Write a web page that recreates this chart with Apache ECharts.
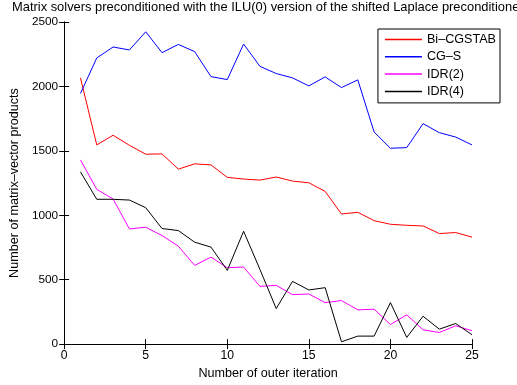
<!DOCTYPE html>
<html>
<head>
<meta charset="utf-8">
<script src="https://cdn.jsdelivr.net/npm/echarts@6/dist/echarts.min.js"></script>
<style>html,body{margin:0;padding:0;background:#fff;}#c{width:517px;height:385px;}</style>
</head>
<body>
<div id="c"></div>
<script>
var iterations = [1,2,3,4,5,6,7,8,9,10,11,12,13,14,15,16,17,18,19,20,21,22,23,24,25];
var bicgstab = [2066,1546,1621,1543,1474,1476,1358,1399,1391,1294,1281,1273,1297,1265,1252,1185,1010,1023,958,930,922,917,858,866,830];
var cgs = [1945,2221,2306,2283,2424,2262,2326,2270,2076,2053,2329,2156,2100,2066,2004,2074,1991,2051,1646,1520,1525,1711,1641,1607,1546];
var idr2 = [1430,1201,1126,894,907,843,760,611,675,593,598,448,456,384,389,322,338,266,271,152,227,111,90,142,104];
var idr4 = [1337,1124,1124,1118,1059,897,881,791,753,572,876,580,276,487,420,438,18,62,62,322,52,216,116,160,73];
var seriesNames = ['Bi\u2013CGSTAB','CG\u2013S','IDR(2)','IDR(4)'];
var seriesColors = ['#ff0000','#0000ff','#ff00ff','#000000'];
var xTicks = [0,5,10,15,20,25];
var yTicks = [0,500,1000,1500,2000,2500];

var FONT = 'Liberation Sans, Arial, Helvetica, sans-serif';
function pairs(v){ return iterations.map(function(x,i){ return [x, v[i]]; }); }
var all = [bicgstab, cgs, idr2, idr4];

var chart = echarts.init(document.getElementById('c'), null, {renderer:'canvas'});
var axisLine = {show:true, lineStyle:{color:'#000', width:1}};
var tick = {show:true, inside:true, length:5, lineStyle:{color:'#000', width:1}};
chart.setOption({
  animation:false,
  backgroundColor:'#fff',
  title:{
    text:'Matrix solvers preconditioned with the ILU(0) version of the shifted Laplace preconditioner',
    left:12, top:1, padding:0,
    textStyle:{fontFamily:FONT, fontSize:12.9, fontWeight:'normal', color:'#000', width:700, overflow:'none'}
  },
  grid:{left:61, right:45, top:22, bottom:39.3, containLabel:false},
  legend:{
    data:seriesNames.map(function(n,i){
      return {name:n, icon:'rect', itemStyle:{color:seriesColors[i], borderWidth:0, opacity:1}};
    }),
    orient:'vertical',
    right:17, top:29,
    padding:[4,4,5,7],
    itemWidth:37, itemHeight:1.5, itemGap:4.3,
    backgroundColor:'#fff',
    borderColor:'#000', borderWidth:1, borderRadius:0,
    textStyle:{fontFamily:FONT, fontSize:12.6, color:'#000', lineHeight:12},
    z:10
  },
  xAxis:[
    {type:'value', min:xTicks[0], max:xTicks[xTicks.length-1], interval:5, position:'bottom',
     axisLine:axisLine, axisTick:tick, splitLine:{show:false},
     axisLabel:{show:true, margin:6, color:'#000', fontFamily:FONT, fontSize:12.2,
       formatter:function(v){ return String(v); }},
     name:'Number of outer iteration', nameLocation:'middle', nameGap:20,
     nameTextStyle:{fontFamily:FONT, fontSize:12.6, color:'#000'}},
    {type:'value', min:0, max:25, interval:5, position:'top',
     axisLine:axisLine, axisTick:tick, splitLine:{show:false}, axisLabel:{show:false}}
  ],
  yAxis:[
    {type:'value', min:yTicks[0], max:yTicks[yTicks.length-1], interval:500, position:'left',
     axisLine:axisLine, axisTick:tick, splitLine:{show:false},
     axisLabel:{show:true, margin:6, color:'#000', fontFamily:FONT, fontSize:11.8,
       formatter:function(v){ return String(v); }},
     name:'Number of matrix\u2013vector products', nameLocation:'middle', nameGap:39,
     nameTextStyle:{fontFamily:FONT, fontSize:12.6, color:'#000'}},
    {type:'value', min:0, max:2500, interval:500, position:'right',
     axisLine:axisLine, axisTick:tick, splitLine:{show:false}, axisLabel:{show:false}}
  ],
  series: all.map(function(v,i){
    return {
      name:seriesNames[i], type:'line', data:pairs(v),
      xAxisIndex:0, yAxisIndex:0,
      symbol:'none', showSymbol:false,
      lineStyle:{color:seriesColors[i], width:1},
      itemStyle:{color:seriesColors[i]},
      emphasis:{disabled:true}
    };
  })
});
</script>
</body>
</html>
